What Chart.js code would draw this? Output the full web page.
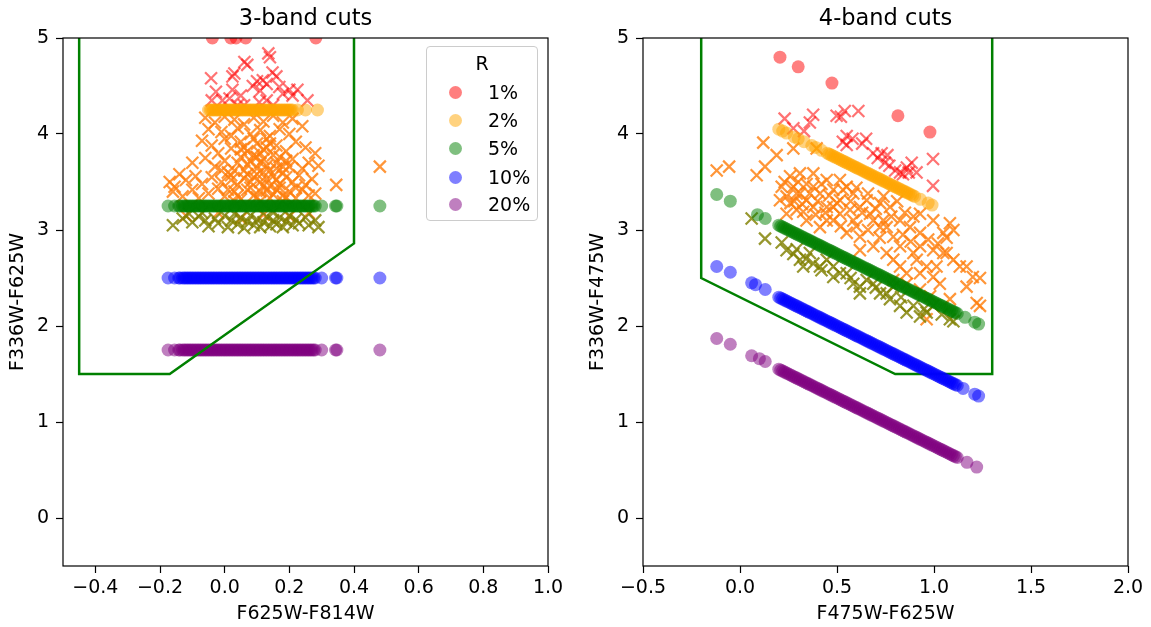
<!DOCTYPE html>
<html><head><meta charset="utf-8">
<script src="https://cdn.jsdelivr.net/npm/chart.js@4/dist/chart.umd.min.js"></script>
<style>
html,body{margin:0;padding:0;background:#fff;overflow:hidden;width:1151px;height:627px;}
canvas{position:absolute;top:0;}
#c3{left:0;}
#c4{left:580px;}
.lg{position:absolute;font-family:'DejaVu Sans',sans-serif;font-size:19px;color:#000;line-height:22px;white-space:nowrap;}
#lgbox{position:absolute;left:426px;top:46px;width:110px;height:173px;border:1px solid #cccccc;border-radius:4px;background:rgba(255,255,255,0.8);}
.dot{position:absolute;width:13px;height:13px;border-radius:50%;}
</style></head>
<body>
<canvas id="c3" width="611" height="627" style="width:611px;height:627px"></canvas>
<canvas id="c4" width="611" height="627" style="width:611px;height:627px"></canvas>
<div id="lgbox"></div>
<script>
// ---------- tick labels ----------
const xTicks3 = [-0.4, -0.2, 0.0, 0.2, 0.4, 0.6, 0.8, 1.0];
const xTicks4 = [-0.5, 0.0, 0.5, 1.0, 1.5, 2.0];
const yTicks = [0, 1, 2, 3, 4, 5];

// ---------- categories ----------
const rLabels = ['1%', '2%', '5%', '10%', '20%'];

// ---------- 3-band panel ----------
const rowY3 = [5.0, 4.25, 3.25, 2.5, 1.75];          // y level of each R row
const redRowX3 = [-0.038, 0.019, 0.035, 0.065, 0.282];
const orangeRowX3 = [-0.050,-0.045,-0.040,-0.035,-0.030,-0.025,-0.020,-0.015,-0.010,-0.005,0.000,0.005,0.010,0.015,0.020,0.025,0.030,0.035,0.040,0.045,0.050,0.055,0.060,0.065,0.070,0.075,0.080,0.085,0.090,0.095,0.100,0.105,0.110,0.115,0.120,0.125,0.130,0.135,0.140,0.145,0.150,0.155,0.160,0.165,0.170,0.175,0.180,0.185,0.190,0.195,0.200,0.205,0.210,0.225,0.250,0.287];
const lowRowX3 = [-0.175,-0.155,-0.142,-0.138,-0.130,-0.125,-0.120,-0.115,-0.110,-0.105,-0.100,-0.095,-0.090,-0.085,-0.080,-0.075,-0.070,-0.065,-0.060,-0.055,-0.050,-0.045,-0.040,-0.035,-0.030,-0.025,-0.020,-0.015,-0.010,-0.005,0.000,0.005,0.010,0.015,0.020,0.025,0.030,0.035,0.040,0.045,0.050,0.055,0.060,0.065,0.070,0.075,0.080,0.085,0.090,0.095,0.100,0.105,0.110,0.115,0.120,0.125,0.130,0.135,0.140,0.145,0.150,0.155,0.160,0.165,0.170,0.175,0.180,0.185,0.190,0.195,0.200,0.205,0.210,0.215,0.220,0.225,0.230,0.235,0.240,0.245,0.250,0.255,0.260,0.265,0.270,0.275,0.280,0.300,0.343,0.347,0.48];

const redX3 = [[0.135,4.84],[0.14,4.80],[0.061,4.75],[0.07,4.72],[-0.042,4.58],[0.024,4.60],[0.03,4.63],[0.024,4.46],[0.10,4.55],[0.148,4.64],[0.16,4.60],[0.169,4.49],[0.20,4.46],[0.225,4.46],[0.256,4.35],[-0.04,4.35],[0.107,4.33],[-0.027,4.44],[0.087,4.50],[0.13,4.52],[0.118,4.56],[-0.007,4.35],[0.015,4.37],[0.13,4.35],[0.18,4.42],[0.06,4.30],[0.04,4.30],[0.21,4.40],[0.11,4.45],[0.05,4.40],[0.15,4.30]];
const orangeX3 = [[-0.06,4.17],[-0.03,4.12],[0.0,4.18],[0.03,4.15],[0.06,4.10],[0.09,4.17],[0.12,4.13],[0.15,4.19],[0.18,4.12],[0.21,4.16],[-0.05,4.05],[-0.01,4.02],[0.04,4.06],[0.08,4.00],[0.11,4.04],[0.14,3.98],[0.17,4.05],[0.20,4.00],[0.24,4.08],
[-0.07,3.93],[-0.04,3.88],[0.0,3.95],[0.02,3.85],[0.05,3.92],[0.07,3.82],[0.10,3.90],[0.12,3.84],[0.13,3.95],[0.16,3.88],[0.19,3.82],[0.22,3.92],[0.25,3.86],[0.28,3.80],[-0.02,3.80],[0.09,3.78],
[-0.10,3.70],[-0.06,3.75],[-0.03,3.66],[0.0,3.72],[0.03,3.62],[0.05,3.76],[0.07,3.68],[0.10,3.64],[0.12,3.74],[0.14,3.62],[0.16,3.70],[0.18,3.66],[0.21,3.74],[0.24,3.64],[0.26,3.70],[0.29,3.67],[0.01,3.60],[0.11,3.70],
[-0.14,3.58],[-0.12,3.52],[-0.09,3.56],[-0.07,3.48],[-0.04,3.55],[-0.01,3.50],[0.02,3.57],[0.04,3.47],[0.06,3.54],[0.08,3.50],[0.10,3.58],[0.12,3.46],[0.13,3.53],[0.15,3.56],[0.17,3.48],[0.19,3.55],[0.21,3.50],[0.23,3.57],[0.25,3.47],[0.27,3.53],[0.345,3.47],[0.48,3.66],[-0.17,3.50],[-0.155,3.45],
[-0.16,3.40],[-0.13,3.35],[-0.10,3.42],[-0.08,3.33],[-0.05,3.38],[-0.02,3.43],[0.0,3.35],[0.03,3.40],[0.05,3.32],[0.07,3.42],[0.09,3.36],[0.11,3.40],[0.14,3.33],[0.16,3.42],[0.18,3.36],[0.20,3.40],[0.22,3.33],[0.24,3.42],[0.26,3.36],[0.28,3.38],
[-0.12,3.15],[-0.02,3.18],[0.05,3.12],[0.12,3.16],[0.20,3.14],[0.26,3.18],
[0.02,3.98],[0.06,3.86],[0.09,3.95],[0.11,3.80],[0.14,3.90],[0.17,3.76],[0.04,3.70],[0.08,3.72],[0.13,3.67],[0.15,3.78],[0.19,3.72],[0.02,3.52],[0.06,3.62],[0.09,3.55],[0.12,3.60],[0.16,3.52],[0.18,3.60],[0.01,3.42],[0.04,3.36],[0.08,3.44],[0.10,3.34],[0.13,3.41],[0.15,3.37],[0.17,3.44],[0.19,3.34],[0.07,3.58],[0.11,3.50],[0.14,3.46],[0.05,3.84],[0.10,3.76],[0.13,3.86],[0.16,3.64],[-0.01,3.62],[0.20,3.66],[0.22,3.44],[0.03,3.30],[0.11,3.30],[0.18,3.30]];
const oliveX3 = [[-0.16,3.05],[-0.13,3.12],[-0.11,3.17],[-0.10,3.08],[-0.08,3.14],[-0.06,3.10],[-0.05,3.04],[-0.03,3.12],[-0.02,3.07],[0.0,3.15],[0.01,3.03],[0.02,3.10],[0.04,3.06],[0.05,3.13],[0.06,3.02],[0.07,3.09],[0.08,3.15],[0.09,3.05],[0.10,3.11],[0.11,3.03],[0.12,3.08],[0.13,3.14],[0.14,3.04],[0.15,3.10],[0.16,3.06],[0.17,3.13],[0.18,3.03],[0.19,3.09],[0.20,3.15],[0.21,3.05],[0.22,3.11],[0.23,3.07],[0.25,3.13],[0.26,3.05],[0.28,3.10],[0.29,3.03],[0.03,3.17],[-0.07,3.18],[0.15,3.18]];
const cut3 = [[-0.45,5.6],[-0.45,1.5],[-0.17,1.5],[0.40,2.86],[0.40,5.6]];

// ---------- 4-band panel ----------
const red4 = [[0.206,4.80],[0.30,4.70],[0.474,4.53],[0.814,4.19],[0.979,4.02]];
const orange4 = [[0.20,4.05],[0.22,4.03],[0.24,4.01],[0.28,3.97],[0.30,3.95],[0.33,3.92],[0.37,3.88],[0.39,3.86],[0.42,3.83],[0.45,3.80],[0.46,3.79],[0.47,3.78],[0.48,3.77],[0.49,3.76],[0.50,3.75],[0.51,3.74],[0.52,3.73],[0.53,3.72],[0.54,3.71],[0.55,3.70],[0.56,3.69],[0.57,3.68],[0.58,3.67],[0.59,3.66],[0.60,3.65],[0.61,3.64],[0.62,3.63],[0.63,3.62],[0.64,3.61],[0.65,3.60],[0.66,3.59],[0.67,3.58],[0.68,3.57],[0.69,3.56],[0.70,3.55],[0.71,3.54],[0.72,3.53],[0.73,3.52],[0.74,3.51],[0.75,3.50],[0.76,3.49],[0.77,3.48],[0.78,3.47],[0.79,3.46],[0.80,3.45],[0.81,3.44],[0.82,3.43],[0.83,3.42],[0.84,3.41],[0.85,3.40],[0.86,3.39],[0.87,3.38],[0.88,3.37],[0.89,3.36],[0.90,3.35],[0.93,3.32],[0.97,3.28],[0.99,3.26]];
const lineX4 = [0.20,0.21,0.22,0.23,0.24,0.25,0.26,0.27,0.28,0.29,0.30,0.31,0.32,0.33,0.34,0.35,0.36,0.37,0.38,0.39,0.40,0.41,0.42,0.43,0.44,0.45,0.46,0.47,0.48,0.49,0.50,0.51,0.52,0.53,0.54,0.55,0.56,0.57,0.58,0.59,0.60,0.61,0.62,0.63,0.64,0.65,0.66,0.67,0.68,0.69,0.70,0.71,0.72,0.73,0.74,0.75,0.76,0.77,0.78,0.79,0.80,0.81,0.82,0.83,0.84,0.85,0.86,0.87,0.88,0.89,0.90,0.91,0.92,0.93,0.94,0.95,0.96,0.97,0.98,0.99,1.00,1.01,1.02,1.03,1.04,1.05,1.06,1.07,1.08,1.09,1.10,1.11,1.12];
const greenY4 = [3.05,3.04,3.03,3.02,3.01,3.00,2.99,2.98,2.97,2.96,2.95,2.94,2.93,2.92,2.91,2.90,2.89,2.88,2.87,2.86,2.85,2.84,2.83,2.82,2.81,2.80,2.79,2.78,2.77,2.76,2.75,2.74,2.73,2.72,2.71,2.70,2.69,2.68,2.67,2.66,2.65,2.64,2.63,2.62,2.61,2.60,2.59,2.58,2.57,2.56,2.55,2.54,2.53,2.52,2.51,2.50,2.49,2.48,2.47,2.46,2.45,2.44,2.43,2.42,2.41,2.40,2.39,2.38,2.37,2.36,2.35,2.34,2.33,2.32,2.31,2.30,2.29,2.28,2.27,2.26,2.25,2.24,2.23,2.22,2.21,2.20,2.19,2.18,2.17,2.16,2.15,2.14,2.13];
const blueY4 = [2.30,2.29,2.28,2.27,2.26,2.25,2.24,2.23,2.22,2.21,2.20,2.19,2.18,2.17,2.16,2.15,2.14,2.13,2.12,2.11,2.10,2.09,2.08,2.07,2.06,2.05,2.04,2.03,2.02,2.01,2.00,1.99,1.98,1.97,1.96,1.95,1.94,1.93,1.92,1.91,1.90,1.89,1.88,1.87,1.86,1.85,1.84,1.83,1.82,1.81,1.80,1.79,1.78,1.77,1.76,1.75,1.74,1.73,1.72,1.71,1.70,1.69,1.68,1.67,1.66,1.65,1.64,1.63,1.62,1.61,1.60,1.59,1.58,1.57,1.56,1.55,1.54,1.53,1.52,1.51,1.50,1.49,1.48,1.47,1.46,1.45,1.44,1.43,1.42,1.41,1.40,1.39,1.38];
const purpleY4 = [1.55,1.54,1.53,1.52,1.51,1.50,1.49,1.48,1.47,1.46,1.45,1.44,1.43,1.42,1.41,1.40,1.39,1.38,1.37,1.36,1.35,1.34,1.33,1.32,1.31,1.30,1.29,1.28,1.27,1.26,1.25,1.24,1.23,1.22,1.21,1.20,1.19,1.18,1.17,1.16,1.15,1.14,1.13,1.12,1.11,1.10,1.09,1.08,1.07,1.06,1.05,1.04,1.03,1.02,1.01,1.00,0.99,0.98,0.97,0.96,0.95,0.94,0.93,0.92,0.91,0.90,0.89,0.88,0.87,0.86,0.85,0.84,0.83,0.82,0.81,0.80,0.79,0.78,0.77,0.76,0.75,0.74,0.73,0.72,0.71,0.70,0.69,0.68,0.67,0.66,0.65,0.64,0.63];
const greenExtra4 = [[-0.12,3.37],[-0.05,3.30],[0.09,3.16],[0.13,3.12],[1.16,2.09],[1.21,2.04],[1.23,2.02]];
const blueExtra4 = [[-0.12,2.62],[-0.05,2.56],[0.06,2.45],[0.08,2.43],[0.13,2.38],[1.15,1.35],[1.21,1.29],[1.23,1.27]];
const purpleExtra4 = [[-0.12,1.87],[-0.05,1.81],[0.06,1.69],[0.10,1.66],[0.13,1.63],[1.17,0.58],[1.22,0.53]];
const redX4 = [[0.23,4.16],[0.275,4.06],[0.33,4.03],[0.377,4.20],[0.36,4.12],[0.498,4.19],[0.54,4.24],[0.61,4.24],[0.52,4.18],[0.53,3.92],[0.58,3.95],[0.65,3.95],[0.55,3.885],[0.55,3.98],[0.63,3.90],[0.686,3.80],[0.73,3.80],[0.71,3.75],[0.747,3.70],[0.77,3.67],[0.80,3.62],[0.825,3.60],[0.84,3.58],[0.86,3.65],[0.885,3.70],[0.91,3.60],[0.995,3.74],[0.995,3.46],[0.87,3.60],[0.76,3.78]];
const orangeX4 = [[0.12,3.91],[0.189,3.78],[0.275,3.85],[-0.12,3.62],[-0.056,3.66],[0.086,3.57],[0.129,3.66],[0.395,3.85],[0.215,3.45],[0.258,3.56],[0.24,3.35],[0.309,3.38],[0.343,3.31],[0.292,3.21],[0.378,3.45],[0.447,3.52],[0.481,3.42],[0.515,3.31],[0.584,3.38],[0.618,3.24],[0.653,3.31],[0.722,3.28],[0.773,3.24],[0.825,3.10],[0.876,3.03],[0.928,2.97],[0.894,3.14],[1.048,2.97],[1.082,3.07],[1.10,3.00],[1.065,2.92],[0.481,3.10],[0.412,3.03],[0.343,3.10],[0.24,3.17],[0.55,2.97],[0.618,2.93],[0.687,2.83],[0.756,2.76],[0.79,2.69],[0.825,2.62],[0.894,2.76],[0.928,2.83],[0.962,2.62],[0.996,2.51],[1.03,2.44],[1.10,2.69],[1.133,2.62],[1.168,2.62],[1.237,2.50],[1.20,2.51],[1.168,2.41],[1.22,2.24],[1.237,2.21],[1.082,2.28],[0.98,2.31],[0.928,2.38],[0.859,2.44],[0.962,2.07],[0.79,2.93],[0.722,3.03],[0.584,3.10],[0.515,3.17],[0.447,3.24],[0.378,3.24],[0.309,3.59],[0.206,3.31],[0.275,3.45],[0.343,3.48],[0.412,3.38],[0.55,3.45],[0.481,3.24],[0.687,3.10],[0.756,3.03],[0.618,2.79],[0.825,2.83],[0.996,2.79],[1.065,2.76],[0.911,2.69],[0.859,2.55],[1.013,2.62],[1.048,2.76],[0.928,2.55],[0.79,2.48],[0.515,3.52],[0.378,3.59],[0.292,3.38],[0.326,3.19],[0.447,3.10],[0.567,3.21],[0.67,3.17],[0.739,3.10],[0.928,3.17],[0.996,3.10],
[0.23,3.50],[0.26,3.28],[0.30,3.50],[0.32,3.27],[0.36,3.38],[0.40,3.30],[0.42,3.48],[0.44,3.18],[0.46,3.36],[0.50,3.28],[0.53,3.42],[0.57,3.30],[0.60,3.44],[0.63,3.18],[0.66,3.38],[0.70,3.22],[0.74,3.35],[0.78,3.14],[0.81,3.30],[0.85,3.18],[0.66,3.00],[0.72,2.92],[0.84,2.95],[0.88,2.88],[0.97,2.90],[1.02,2.86],[0.60,3.04],[0.39,3.16],[0.28,3.30],[0.52,3.04]];
const oliveX4 = [[0.06,3.12],[0.129,2.91],[0.215,2.87],[0.275,2.75],[0.292,2.80],[0.378,2.65],[0.412,2.62],[0.481,2.51],[0.515,2.55],[0.584,2.44],[0.618,2.41],[0.653,2.48],[0.722,2.34],[0.773,2.28],[0.825,2.21],[0.859,2.14],[0.928,2.10],[0.962,2.14],[1.082,2.07],[1.10,2.05],[0.309,2.69],[0.36,2.76],[0.447,2.69],[0.55,2.55],[0.687,2.44],[0.756,2.34],[0.894,2.21],[0.24,2.79],[0.326,2.62],[0.481,2.62],[0.618,2.34],[0.79,2.41],[0.996,2.21],[0.34,2.70],[0.42,2.58],[0.57,2.50],[0.70,2.40],[0.83,2.30],[0.95,2.18],[1.04,2.12]];
const cut4 = [[-0.2,5.6],[-0.2,2.5],[0.8,1.5],[1.3,1.5],[1.3,5.6]];

// ---------- styling ----------
const circleColors = ['rgba(255,0,0,0.5)','rgba(255,165,0,0.5)','rgba(0,128,0,0.5)','rgba(0,0,255,0.5)','rgba(128,0,128,0.5)'];
const crossColors = ['rgba(255,0,0,0.55)','rgba(255,127,14,0.82)','rgba(128,128,0,0.82)'];
const FONT = "'DejaVu Sans', sans-serif";

const pts = a => a.map(([x, y]) => ({x, y}));
const row = (xs, y) => xs.map(x => [x, y]);
const zip = (xs, ys) => xs.map((x, i) => [x, ys[i]]);
const circ = (a, c, order) => ({data: pts(a), pointStyle: 'circle', pointRadius: 6.5, pointHoverRadius: 6.5,
  pointBackgroundColor: c, pointBorderColor: c, pointBorderWidth: 0, showLine: false, clip: 0, order, yAxisID: 'y'});
const cross = (a, c, order) => ({data: pts(a), pointStyle: 'crossRot', pointRadius: 8.5, pointHoverRadius: 8.5,
  pointBackgroundColor: 'rgba(0,0,0,0)', pointBorderColor: c, pointBorderWidth: 2.2, showLine: false, clip: 0, order, yAxisID: 'y'});
const cutLine = (a, order) => ({data: pts(a), showLine: true, pointRadius: 0, borderColor: '#008000', borderWidth: 2.5,
  fill: false, tension: 0, clip: 0, order, yAxisID: 'y'});

const fmtX = v => (v < -1e-9 ? '\u2212' : '') + Math.abs(v).toFixed(1);

const framePlugin = {id: 'frame', afterDatasetsDraw(chart) {
  const {ctx, chartArea: a} = chart;
  ctx.save(); ctx.strokeStyle = '#000'; ctx.lineWidth = 1.2;
  ctx.strokeRect(a.left, a.top, a.right - a.left, a.bottom - a.top);
  ctx.restore();
}};

function build(id, title, xTitle, yTitle, xMin, xMax, xTicks, datasets) {
  return new Chart(document.getElementById(id), {
    type: 'scatter',
    data: {datasets},
    options: {
      responsive: false, animation: false, events: [],
      layout: {padding: 0},
      plugins: {
        legend: {display: false}, tooltip: {enabled: false},
        title: {display: true, text: title, color: '#000', font: {family: FONT, size: 22.5, weight: 'normal'}, padding: {top: 6, bottom: 5}}
      },
      scales: {
        x: {type: 'linear', position: 'bottom', min: xMin, max: xMax,
          afterBuildTicks: s => { s.ticks = xTicks.map(v => ({value: v})); },
          afterFit: s => { s.height = 61; },
          ticks: {color: '#000', font: {family: FONT, size: 19}, padding: 4, maxRotation: 0, autoSkip: false, callback: v => fmtX(v)},
          grid: {display: true, drawOnChartArea: false, drawTicks: true, tickLength: 7, tickWidth: 1.2, tickColor: '#000'},
          border: {display: false},
          title: {display: true, text: xTitle, color: '#000', font: {family: FONT, size: 19}, padding: {top: 0, bottom: 2}}},
        y: {type: 'linear', position: 'left', min: -0.5, max: 5,
          afterBuildTicks: s => { s.ticks = yTicks.map(v => ({value: v})); },
          afterFit: s => { s.width = 63; },
          ticks: {color: '#000', font: {family: FONT, size: 19}, padding: 7, callback: v => String(v)},
          grid: {display: true, drawOnChartArea: false, drawTicks: true, tickLength: 7, tickWidth: 1.2, tickColor: '#000'},
          border: {display: false},
          title: {display: true, text: yTitle, color: '#000', font: {family: FONT, size: 19}, padding: {top: 7, bottom: 0}}},
        y2: {type: 'linear', position: 'right', display: true, ticks: {display: false}, grid: {display: false}, border: {display: false},
          afterFit: s => { s.width = 63; }}
      }
    },
    plugins: [framePlugin]
  });
}

build('c3', '3-band cuts', 'F625W-F814W', 'F336W-F625W', -0.5, 1.0, xTicks3, [
  cutLine(cut3, 0),
  circ(row(lowRowX3, rowY3[4]), circleColors[4], 1),
  circ(row(lowRowX3, rowY3[3]), circleColors[3], 2),
  circ(row(lowRowX3, rowY3[2]), circleColors[2], 3),
  circ(row(orangeRowX3, rowY3[1]), circleColors[1], 4),
  circ(row(redRowX3, rowY3[0]), circleColors[0], 5),
  cross(oliveX3, crossColors[2], 6),
  cross(orangeX3, crossColors[1], 7),
  cross(redX3, crossColors[0], 8)
]);

build('c4', '4-band cuts', 'F475W-F625W', 'F336W-F475W', -0.5, 2.0, xTicks4, [
  circ(zip(lineX4, purpleY4).concat(purpleExtra4), circleColors[4], 1),
  circ(zip(lineX4, blueY4).concat(blueExtra4), circleColors[3], 2),
  circ(zip(lineX4, greenY4).concat(greenExtra4), circleColors[2], 3),
  circ(orange4, circleColors[1], 4),
  circ(red4, circleColors[0], 5),
  cross(oliveX4, crossColors[2], 6),
  cross(orangeX4, crossColors[1], 7),
  cross(redX4, crossColors[0], 8),
  cutLine(cut4, 9)
]);

// ---------- legend (left panel) ----------
(function () {
  const body = document.body;
  const t = document.createElement('div');
  t.className = 'lg'; t.textContent = 'R';
  t.style.left = '470px'; t.style.width = '24px'; t.style.textAlign = 'center'; t.style.top = '52px';
  body.appendChild(t);
  const ys = [92, 120, 148, 177, 204];
  rLabels.forEach((lab, i) => {
    const d = document.createElement('div');
    d.className = 'dot'; d.style.background = circleColors[i];
    d.style.left = (455 - 6.5) + 'px'; d.style.top = (ys[i] - 6.5) + 'px';
    body.appendChild(d);
    const s = document.createElement('div');
    s.className = 'lg'; s.textContent = lab;
    s.style.left = '488px'; s.style.top = (ys[i] - 11) + 'px';
    body.appendChild(s);
  });
})();
</script>
</body></html>
